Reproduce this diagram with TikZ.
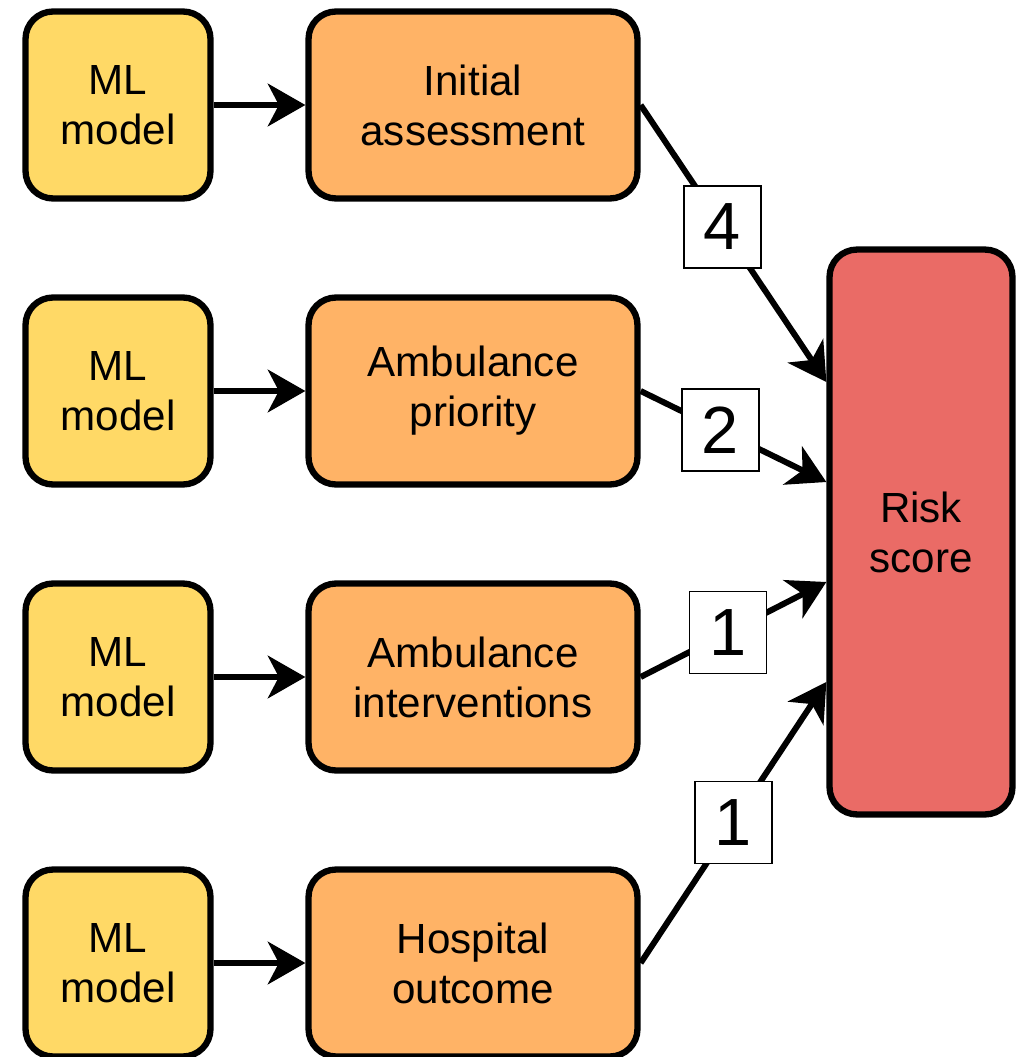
\documentclass[tikz,border=0pt]{standalone}
\usepackage{fontspec}
\setmainfont{Liberation Sans}
\usetikzlibrary{arrows.meta}

\definecolor{mlyellow}{HTML}{FFD966}
\definecolor{taskorange}{HTML}{FFB366}
\definecolor{riskred}{HTML}{EA6B66}

\tikzstyle{mlbox}=[draw=black,fill=mlyellow,line width=3.6pt,rounded corners=0.55cm,minimum width=3.7cm,minimum height=3.74cm,align=center,inner sep=0pt,font=\fontsize{24}{28.5}\selectfont]
\tikzstyle{taskbox}=[mlbox,fill=taskorange,minimum width=6.58cm]
\tikzstyle{riskbox}=[mlbox,fill=riskred,minimum width=3.66cm,minimum height=11.3cm]
\tikzstyle{wbox}=[draw=black,fill=white,line width=0.8pt,minimum width=1.54cm,minimum height=1.64cm,inner sep=0pt,font=\fontsize{38}{40}\selectfont]
\tikzstyle{link}=[line width=3.4pt,-{Stealth[length=0.75cm,width=0.85cm,inset=0.22cm]}]
\def\pxunit{0.02cm}

\begin{document}
\begin{tikzpicture}[x=\pxunit,y=-\pxunit]
			\useasboundingbox (0,0) rectangle (1020,1057);
			% ML models feeding the four sub-scores
			\foreach \i/\y/\t in {1/105/{Initial\\assessment},2/391/{Ambulance\\priority},3/677/{Ambulance\\interventions},4/963/{Hospital\\outcome}} {
				\node[mlbox] (ml\i) at (118,\y) {ML\\model};
				\node[taskbox] (task\i) at (473,\y) {\t};
				\draw[link] (ml\i) -- (task\i);
			}
			\node[riskbox] (risk) at (921,532) {Risk\\score};
			% weighted links into the risk score
			\foreach \i/\s/\w/\p in {1/3/4/0.44,2/1/2/0.43,3/-1/1/0.47,4/-3/1/0.5} {
				\draw[link] (task\i.east) -- ([yshift=\s cm]risk.west)
					node[wbox,pos=\p]{\w};
			}
		\end{tikzpicture}
\end{document}
